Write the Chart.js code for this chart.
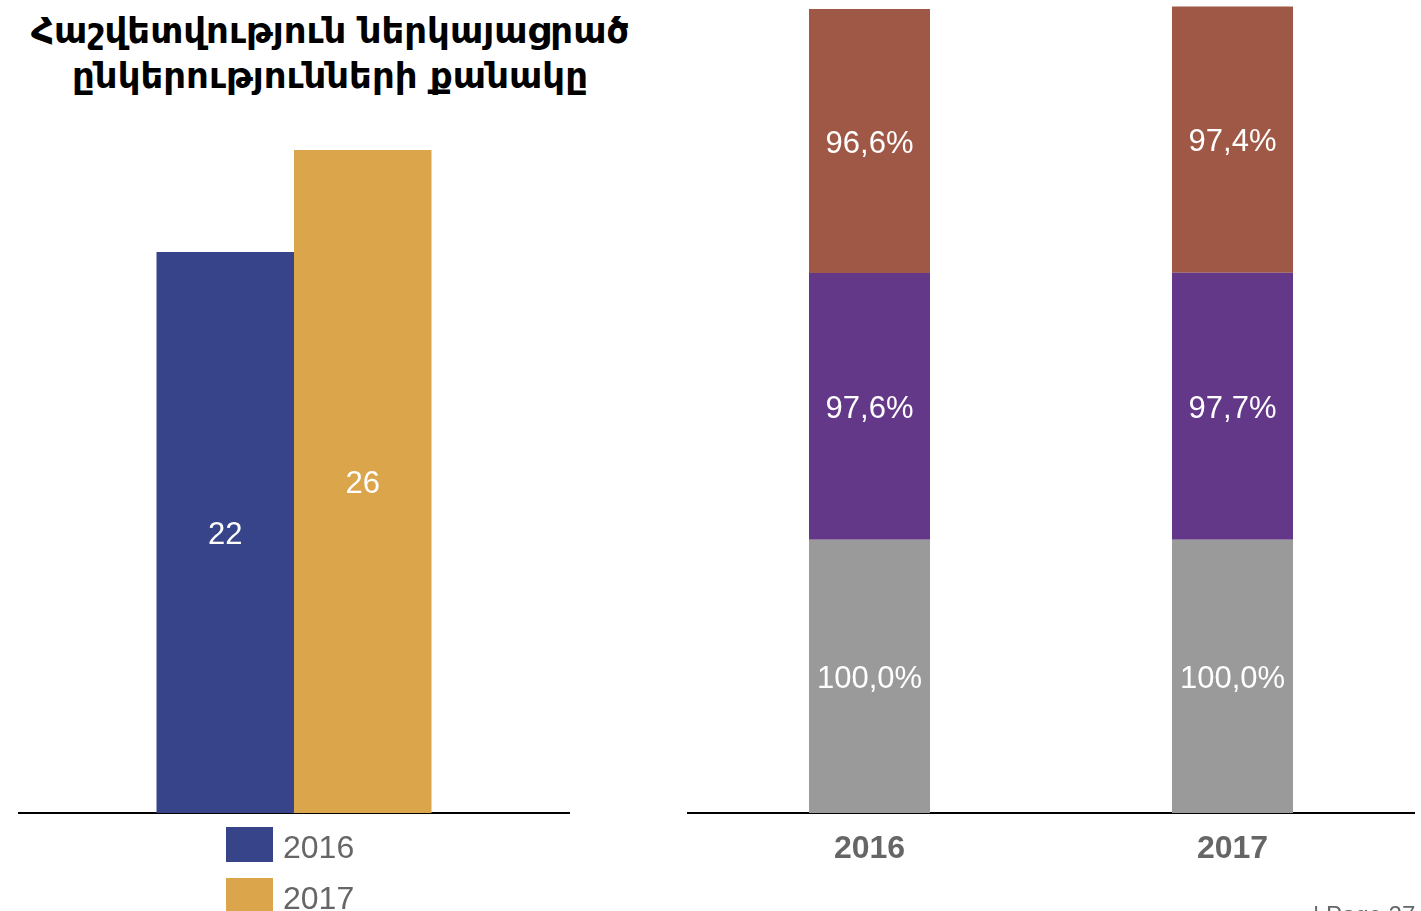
<!DOCTYPE html>
<html>
<head>
<meta charset="utf-8">
<script src="https://cdn.jsdelivr.net/npm/chart.js@4.4.1/dist/chart.umd.min.js"></script>
<style>
  html, body { margin:0; padding:0; background:#fff; }
  body { width:1421px; height:911px; overflow:hidden; position:relative; font-family:"Liberation Sans", Arial, sans-serif; }
  #title { position:absolute; left:0; top:8px; width:660px; text-align:center; font-family:"DejaVu Sans", sans-serif; font-weight:bold; font-size:35.5px; line-height:45px; color:#000; }
  #leftWrap { position:absolute; left:0; top:0; width:650px; height:830px; }
  #rightWrap { position:absolute; left:650px; top:0; width:771px; height:911px; }
  #legend { position:absolute; left:226px; top:827px; }
  .lg-item { display:flex; align-items:center; height:35px; margin-bottom:16px; }
  .lg-box { width:47px; height:35px; flex:none; }
  .lg-text { margin-left:10px; font-size:32px; color:#666; line-height:35px; position:relative; top:3px; }
  #footer { position:absolute; left:1313px; top:903px; font-size:24px; line-height:1; color:#666; white-space:nowrap; }
</style>
</head>
<body>
<div id="title"></div>
<div id="leftWrap"><canvas id="leftChart"></canvas></div>
<div id="rightWrap"><canvas id="rightChart"></canvas></div>
<div id="legend"></div>
<div id="footer">| Page 27</div>
<script>
// ---- Data ----
const leftTitle = ['Հաշվետվություն ներկայացրած', 'ընկերությունների քանակը'];
const leftCategory = [''];
const leftYears = ['2016', '2017'];
const companyCount2016 = [22];
const companyCount2017 = [26];

const rightYears = ['2016', '2017'];
const levelBottom = [100.0, 100.0];
const levelMiddle = [97.6, 97.7];
const levelTop = [96.6, 97.4];

// ---- Colors ----
const NAVY = '#38448A', GOLD = '#DBA54C', BROWN = '#A05846', PURPLE = '#643889', GRAY = '#9A9A9A';

// Title as real text
const titleEl = document.getElementById('title');
leftTitle.forEach(line => {
  const d = document.createElement('div');
  d.textContent = line;
  titleEl.appendChild(d);
});

const valueLabels = {
  id: 'valueLabels',
  afterDatasetsDraw(chart, args, opts) {
    const ctx = chart.ctx;
    ctx.save();
    ctx.font = opts.font;
    ctx.fillStyle = opts.color;
    ctx.textAlign = 'center';
    ctx.textBaseline = 'middle';
    chart.data.datasets.forEach((ds, di) => {
      const meta = chart.getDatasetMeta(di);
      if (meta.hidden) return;
      meta.data.forEach((bar, i) => {
        const p = bar.getProps(['x', 'y', 'base'], true);
        ctx.fillText(opts.format(ds.data[i]), p.x, (p.y + p.base) / 2 + (opts.dy || 0));
      });
    });
    ctx.restore();
  }
};

Chart.defaults.font.family = '"Liberation Sans", Arial, sans-serif';
Chart.defaults.animation = false;

const leftChart = new Chart(document.getElementById('leftChart'), {
  type: 'bar',
  data: {
    labels: leftCategory,
    datasets: [
      { label: leftYears[0], data: companyCount2016, backgroundColor: NAVY },
      { label: leftYears[1], data: companyCount2017, backgroundColor: GOLD }
    ]
  },
  options: {
    responsive: true,
    maintainAspectRatio: false,
    layout: { padding: { left: 19, right: 81, top: 99, bottom: 17 } },
    datasets: { bar: { categoryPercentage: 0.5, barPercentage: 1.0, borderWidth: 0 } },
    scales: {
      x: { display: true, grid: { display: false, drawTicks: false }, ticks: { display: false },
           border: { display: true, color: '#000', width: 2 } },
      y: { display: false, min: 0, max: 28 }
    },
    plugins: {
      legend: { display: false },
      tooltip: { enabled: false },
      title: { display: false },
      valueLabels: { font: '31px "Liberation Sans", Arial, sans-serif', color: '#fff', dy: 3, format: v => String(v) }
    }
  },
  plugins: [valueLabels]
});

// HTML legend from the chart's datasets
const legendEl = document.getElementById('legend');
leftChart.data.datasets.forEach(ds => {
  const item = document.createElement('div');
  item.className = 'lg-item';
  const box = document.createElement('div');
  box.className = 'lg-box';
  box.style.background = ds.backgroundColor;
  const txt = document.createElement('span');
  txt.className = 'lg-text';
  txt.textContent = ds.label;
  item.appendChild(box); item.appendChild(txt);
  legendEl.appendChild(item);
});

new Chart(document.getElementById('rightChart'), {
  type: 'bar',
  data: {
    labels: rightYears,
    datasets: [
      { label: 'level 1', data: levelBottom, backgroundColor: GRAY },
      { label: 'level 2', data: levelMiddle, backgroundColor: PURPLE },
      { label: 'level 3', data: levelTop, backgroundColor: BROWN }
    ]
  },
  options: {
    responsive: true,
    maintainAspectRatio: false,
    layout: { padding: { left: 38, right: 7, top: 0, bottom: 25.6 } },
    datasets: { bar: { categoryPercentage: 1 / 3, barPercentage: 1.0, borderWidth: 0 } },
    scales: {
      x: { stacked: true, grid: { display: false, drawTicks: false },
           border: { display: true, color: '#000', width: 2 },
           ticks: { color: '#666', padding: 17,
                    font: { family: '"Liberation Sans", Arial, sans-serif', size: 32, weight: 'bold', lineHeight: 1.2 } } },
      y: { stacked: true, display: false, min: 0, max: 297.5 }
    },
    plugins: {
      legend: { display: false },
      tooltip: { enabled: false },
      valueLabels: { font: '31px "Liberation Sans", Arial, sans-serif', color: '#fff', dy: 3,
                     format: v => v.toFixed(1).replace('.', ',') + '%' }
    }
  },
  plugins: [valueLabels]
});
</script>
</body>
</html>
